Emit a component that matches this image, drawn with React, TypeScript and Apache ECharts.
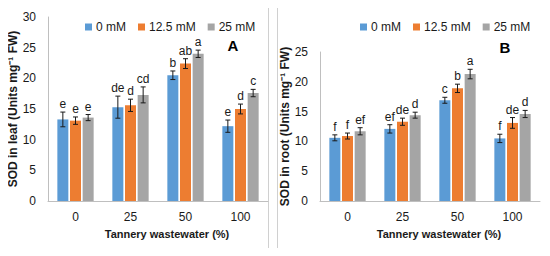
import React, { useEffect, useRef } from "react";
import * as echarts from "echarts";

const categories = ["0", "25", "50", "100"];
const seriesNames = ["0 mM", "12.5 mM", "25 mM"];
const colors = ["#5B9BD5", "#ED7D31", "#A5A5A5"];

// Panel A: SOD in leaf
const leafValues = [
  [13.3, 15.3, 20.5, 12.2],
  [13.1, 15.6, 22.4, 15.0],
  [13.6, 17.3, 24.0, 17.6],
];
const leafErrors = [
  [1.2, 1.8, 0.7, 1.0],
  [0.6, 1.0, 0.8, 0.8],
  [0.5, 1.3, 0.6, 0.6],
];
const leafLetters = [
  ["e", "de", "b", "e"],
  ["e", "d", "ab", "d"],
  ["e", "cd", "a", "c"],
];

// Panel B: SOD in root
const rootValues = [
  [10.6, 12.1, 16.9, 10.5],
  [10.9, 13.3, 18.9, 13.1],
  [11.7, 14.4, 21.3, 14.6],
];
const rootErrors = [
  [0.5, 0.7, 0.5, 0.7],
  [0.5, 0.6, 0.7, 0.9],
  [0.6, 0.5, 0.8, 0.6],
];
const rootLetters = [
  ["f", "ef", "c", "f"],
  ["f", "de", "b", "de"],
  ["ef", "d", "a", "d"],
];

const FONT = "Liberation Sans";
const BAR_W = 11;
const GAP_PCT = 0.15;

export default function App() {
  const ref = useRef<HTMLDivElement>(null);
  useEffect(() => {
    if (!ref.current) return;
    const chart = echarts.init(ref.current, null, { renderer: "svg" });
    const step = BAR_W * (1 + GAP_PCT);

    const makeSeries = (
      panel: number,
      values: number[][],
      errors: number[][],
      letters: string[][]
    ) => {
      const out: any[] = [];
      values.forEach((vals, i) => {
        out.push({
          type: "bar",
          name: seriesNames[i],
          xAxisIndex: panel,
          yAxisIndex: panel,
          data: vals,
          barWidth: BAR_W,
          barGap: GAP_PCT * 100 + "%",
          itemStyle: { color: colors[i] },
        });
      });
      values.forEach((vals, i) => {
        const offset = (i - 1) * step;
        out.push({
          type: "custom",
          xAxisIndex: panel,
          yAxisIndex: panel,
          z: 10,
          data: vals.map((v, k) => [k, v, errors[i][k]]),
          renderItem: (params: any, api: any) => {
            const k = api.value(0);
            const v = api.value(1);
            const e = api.value(2);
            const top = api.coord([k, v + e]);
            const bot = api.coord([k, v - e]);
            const x = top[0] + offset;
            const cap = 2.5;
            const style = { stroke: "#1a1a1a", lineWidth: 1 };
            return {
              type: "group",
              children: [
                { type: "line", shape: { x1: x, y1: top[1], x2: x, y2: bot[1] }, style },
                { type: "line", shape: { x1: x - cap, y1: top[1], x2: x + cap, y2: top[1] }, style },
                { type: "line", shape: { x1: x - cap, y1: bot[1], x2: x + cap, y2: bot[1] }, style },
                {
                  type: "text",
                  x: x,
                  y: top[1] - 2,
                  style: {
                    text: letters[i][params.dataIndex],
                    fill: "#1a1a1a",
                    font: `12px '${FONT}'`,
                    textAlign: "center",
                    textVerticalAlign: "bottom",
                  },
                },
              ],
            };
          },
        });
      });
      return out;
    };

    const axisLine = { show: true, lineStyle: { color: "#bfbfbf", width: 1 } };
    const xAxisBase = {
      type: "category",
      data: categories,
      axisLine,
      axisTick: { show: false },
      axisLabel: { color: "#1a1a1a", fontSize: 12, fontFamily: FONT, margin: 10 },
      name: "Tannery wastewater (%)",
      nameLocation: "middle",
      nameGap: 27,
      nameTextStyle: { color: "#1a1a1a", fontSize: 11, fontWeight: "bold", fontFamily: FONT, padding: [0, 0, 0, 18] },
    };
    const yAxisBase = {
      type: "value",
      min: 0,
      interval: 5,
      axisLine,
      axisTick: { show: false },
      splitLine: { show: false },
      axisLabel: { color: "#1a1a1a", fontSize: 12, fontFamily: FONT, margin: 12 },
      nameLocation: "middle",
      nameGap: 22,
      nameTextStyle: { color: "#1a1a1a", fontSize: 12, fontWeight: "bold", fontFamily: FONT },
    };

    const legendBase = {
      data: seriesNames,
      top: 16,
      itemWidth: 7,
      itemHeight: 7,
      itemGap: 12,
      icon: "rect",
      textStyle: { color: "#1a1a1a", fontSize: 12, fontFamily: FONT, padding: [0, 0, 0, -1] },
    };

    chart.setOption({
      animation: false,
      backgroundColor: "#ffffff",
      textStyle: { fontFamily: FONT },
      grid: [
        { left: 48, right: 282, top: 17, bottom: 55 },
        { left: 320, right: 10, top: 52, bottom: 55 },
      ],
      legend: [
        { ...legendBase, left: 80 },
        { ...legendBase, left: 355 },
      ],
      xAxis: [
        { ...xAxisBase, gridIndex: 0 },
        { ...xAxisBase, gridIndex: 1 },
      ],
      yAxis: [
        { ...yAxisBase, gridIndex: 0, max: 30, name: "SOD in leaf (Units mg⁻¹ FW)" },
        { ...yAxisBase, gridIndex: 1, max: 25, name: "SOD in root (Units mg⁻¹ FW)" },
      ],
      graphic: [
        { type: "rect", shape: { x: 3.5, y: 4.5, width: 265, height: 246 }, style: { fill: "none", stroke: "#d0d0d0", lineWidth: 1 } },
        { type: "rect", shape: { x: 277.5, y: 4.5, width: 267, height: 247 }, style: { fill: "none", stroke: "#d0d0d0", lineWidth: 1 } },
        { type: "text", x: 233, y: 45, style: { text: "A", font: `bold 15px '${FONT}'`, fill: "#000", textAlign: "center", textVerticalAlign: "middle" } },
        { type: "text", x: 505, y: 47, style: { text: "B", font: `bold 15px '${FONT}'`, fill: "#000", textAlign: "center", textVerticalAlign: "middle" } },
      ],
      series: [
        ...makeSeries(0, leafValues, leafErrors, leafLetters),
        ...makeSeries(1, rootValues, rootErrors, rootLetters),
      ],
    });
    return () => chart.dispose();
  }, []);
  return <div ref={ref} style={{ width: 550, height: 256, margin: -8 }} />;
}
